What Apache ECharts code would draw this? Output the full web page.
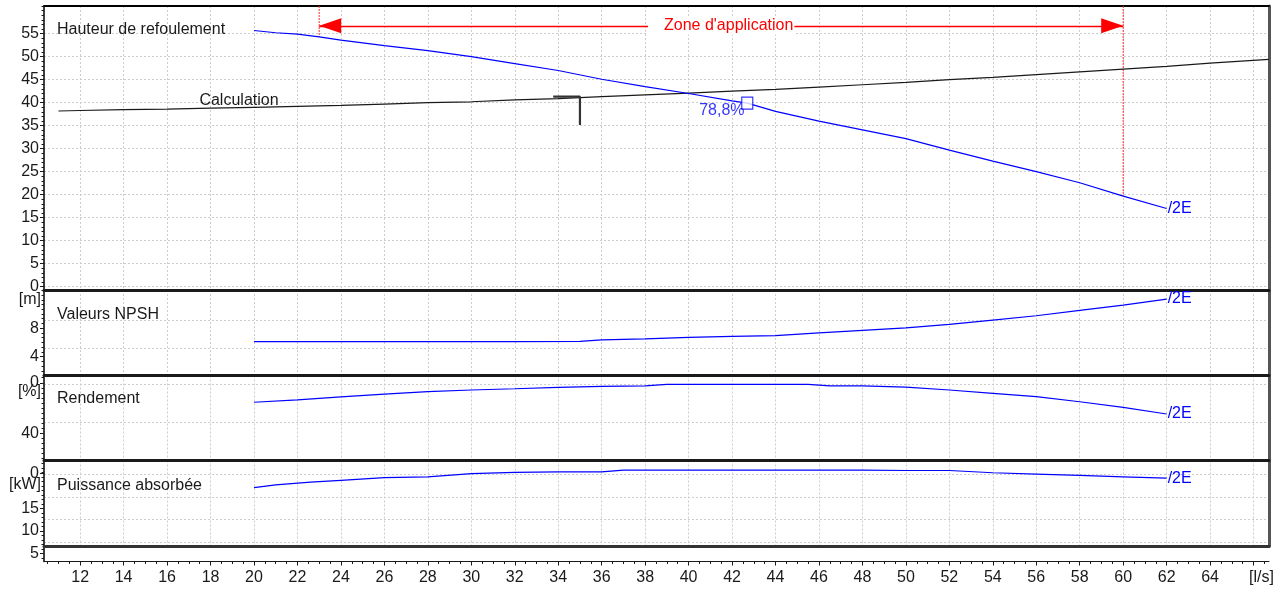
<!DOCTYPE html>
<html>
<head>
<meta charset="utf-8">
<script src="https://cdn.jsdelivr.net/npm/echarts@6/dist/echarts.min.js"></script>
<style>
  html, body { margin: 0; padding: 0; background: #fff; }
  #chart { width: 1288px; height: 590px; }
</style>
</head>
<body>
<div id="chart"></div>
<script>
// ---------- data ----------
// flow rate axis [l/s]
const flowLabels = [12, 14, 16, 18, 20, 22, 24, 26, 28, 30, 32, 34, 36, 38, 40, 42, 44, 46, 48, 50, 52, 54, 56, 58, 60, 62, 64];

// pump head curve /2E [m]
const headFlow   = [20, 21, 22, 23, 24, 26, 28, 30, 32, 34, 36, 38, 40, 42, 42.7, 44, 46, 48, 50, 52, 54, 56, 58, 60, 62];
const headValues = [55.7, 55.2, 54.9, 54.3, 53.6, 52.4, 51.3, 50.0, 48.5, 47.0, 45.1, 43.5, 42.0, 40.4, 39.9, 38.1, 36.0, 34.1, 32.2, 29.7, 27.3, 25.0, 22.6, 19.7, 17.0];

// system curve "Calculation" [m]
const systemFlow = [11, 12, 14, 16, 18, 20, 22, 24, 26, 28, 30, 32, 34, 36, 38, 40, 42, 44, 46, 48, 50, 52, 54, 56, 58, 60, 62, 64, 66.7];
const systemHead = [38.2, 38.3, 38.5, 38.6, 38.8, 39.0, 39.2, 39.4, 39.7, 40.0, 40.2, 40.6, 40.9, 41.3, 41.7, 42.1, 42.5, 42.9, 43.4, 43.9, 44.4, 45.0, 45.5, 46.1, 46.7, 47.3, 47.9, 48.6, 49.4];
const systemLabelFlow = 20;

// operating point flag on the system curve
const dutyFlagFlow = [33.77, 35, 35];
const dutyFlagHead = [41.3, 41.3, 35.15];

// best efficiency point
const bepFlow = 42.7;
const bepHead = 39.9;
const bepEfficiency = 78.8;

// application range
const zoneStart = 23;
const zoneEnd = 60;
const zoneArrowHead = 56.7;

// NPSH [m]
const npshFlow   = [20, 24, 28, 32, 35, 36, 38, 40, 42, 44, 46, 48, 50, 52, 54, 56, 58, 60, 62];
const npshValues = [6.1, 6.1, 6.1, 6.1, 6.15, 6.35, 6.5, 6.7, 6.85, 6.95, 7.35, 7.7, 8.05, 8.55, 9.15, 9.75, 10.5, 11.25, 12.1];

// efficiency [%]
const effFlow   = [20, 22, 24, 26, 28, 30, 32, 34, 36, 38, 39, 42, 45.5, 46.5, 48, 50, 52, 54, 56, 58, 60, 62];
const effValues = [64.6, 66.5, 68.8, 71.0, 73.0, 74.3, 75.3, 76.4, 77.2, 77.5, 78.8, 78.8, 78.8, 77.6, 77.5, 76.6, 74.3, 71.7, 69.0, 65.0, 60.6, 55.3];

// absorbed power [kW]
const powerFlow   = [20, 21, 22.6, 24, 26, 28, 30, 32, 34, 36, 37, 40, 44, 48, 50, 52, 54, 56, 58, 60, 62];
const powerValues = [19.6, 20.2, 20.8, 21.2, 21.8, 22.0, 22.7, 23.0, 23.1, 23.1, 23.5, 23.5, 23.5, 23.5, 23.4, 23.4, 22.9, 22.6, 22.3, 22.0, 21.7];

// vertical axis labels per panel
const headTicks = [0, 5, 10, 15, 20, 25, 30, 35, 40, 45, 50, 55];
const npshTicks = [4, 8];
const npshGrid  = [5.17, 9.06];
const effTicks    = [40, 80];
const effTickText = ['40', '0'];      // the 80 label only shows its last digit next to the unit
const effGrid     = [48.8, 79.05];
const powerTicks    = [10, 15, 22.8];
const powerTickText = ['10', '15', '0'];
const powerGrid     = [7.5, 12.5, 17.5, 22.5];
const stripTicks    = [5];

// ---------- layout / style ----------
const FONT = "'Liberation Sans', Arial, Helvetica, sans-serif";
const BLUE = '#0000ff';
const RED = '#ff0000';
const INK = '#1a1a1a';
const GRID_LINE = { show: true, lineStyle: { color: '#cdcdcd', width: 1, type: [2, 2] } };
const X_MIN = 10.336, X_MAX = 66.71;

const range = (a, b, s) => { const r = []; for (let v = a; v <= b + 1e-9; v += s) r.push(+v.toFixed(4)); return r; };
const zip = (xs, ys) => xs.map((x, i) => [x, ys[i]]);
const at = (xs, ys, x) => ys[xs.indexOf(x)];

const panels = [
  { top: 6,     height: 284,  min: -0.717, max: 61.02, labels: headTicks,  text: null,          grid: headTicks,  minor: range(0, 61, 1),        topLine: ['#000', 1.8], right: true },
  { top: 290,   height: 85.5, min: 1.338,  max: 13.38, labels: npshTicks,  text: null,          grid: npshGrid,   minor: range(2, 13.34, 2 / 3), topLine: [INK, 3],      right: true },
  { top: 375.5, height: 85,   min: 18.48,  max: 85.78, labels: effTicks,   text: effTickText,   grid: effGrid,    minor: range(20, 84, 4),       topLine: [INK, 3],      right: true },
  { top: 460.5, height: 85.5, min: 6.62,   max: 25.62, labels: powerTicks, text: powerTickText, grid: powerGrid,  minor: range(7, 25, 1),        topLine: [INK, 3],      right: true },
  { top: 546,   height: 15.5, min: 3.18,   max: 6.62,  labels: stripTicks, text: null,          grid: [],         minor: [4, 5, 6],              topLine: ['#333', 3],   right: false }
];

const grids = [], xAxes = [], yAxes = [];
const labAxisIndex = [];

panels.forEach((p, g) => {
  grids.push({ left: 44, right: 19, top: p.top, height: p.height, containLabel: false, outerBoundsMode: 'none' });

  // top edge of each panel (frame / separator) + vertical grid lines
  xAxes.push({
    type: 'value', gridIndex: g, position: 'top', min: X_MIN, max: X_MAX,
    axisLine: { show: true, onZero: false, lineStyle: { color: p.topLine[0], width: p.topLine[1] } },
    axisTick: { show: false, customValues: g < 4 ? range(12, 66, 2) : [] },
    axisLabel: { show: false },
    splitLine: g < 4 ? GRID_LINE : { show: false }
  });

  const fmt = (v) => {
    const i = p.labels.findIndex(t => Math.abs(t - v) < 1e-6);
    return p.text && i >= 0 ? p.text[i] : String(v);
  };

  labAxisIndex[g] = yAxes.length;
  // labelled scale
  yAxes.push({
    type: 'value', gridIndex: g, position: 'left', min: p.min, max: p.max,
    axisLine: { show: false, onZero: false },
    axisTick: { show: true, customValues: p.labels, length: 4, lineStyle: { color: INK, width: 1 } },
    axisLabel: { customValues: p.labels, formatter: fmt, margin: 5, color: INK, fontSize: 16, fontFamily: FONT },
    splitLine: { show: false }
  });
  // axis line + horizontal grid lines
  yAxes.push({
    type: 'value', gridIndex: g, position: 'left', min: p.min, max: p.max,
    axisLine: { show: true, onZero: false, lineStyle: { color: '#000', width: 1.5 } },
    axisTick: { show: false, customValues: p.grid },
    axisLabel: { show: false },
    splitLine: GRID_LINE
  });
  // minor ticks
  yAxes.push({
    type: 'value', gridIndex: g, position: 'left', min: p.min, max: p.max,
    axisLine: { show: false, onZero: false },
    axisTick: { show: true, customValues: p.minor, length: 2.5, lineStyle: { color: INK, width: 1 } },
    axisLabel: { show: false },
    splitLine: { show: false }
  });
  if (p.right) {
    yAxes.push({
      type: 'value', gridIndex: g, position: 'right', min: 0, max: 1,
      axisLine: { show: true, onZero: false, lineStyle: { color: '#555', width: 3 } },
      axisTick: { show: false }, axisLabel: { show: false }, splitLine: { show: false }
    });
  }
});

// bottom flow axis: labelled major ticks and half-unit minor ticks
xAxes.push({
  type: 'value', gridIndex: 4, position: 'bottom', min: X_MIN, max: X_MAX,
  axisLine: { show: true, onZero: false, lineStyle: { color: INK, width: 1 } },
  axisTick: { show: true, customValues: range(12, 66, 2), length: 4, lineStyle: { color: INK } },
  axisLabel: { customValues: flowLabels, margin: 8, color: INK, fontSize: 16, fontFamily: FONT },
  splitLine: { show: false }
});
xAxes.push({
  type: 'value', gridIndex: 4, position: 'bottom', min: X_MIN, max: X_MAX,
  axisLine: { show: false, onZero: false },
  axisTick: { show: true, customValues: range(10.5, 66.5, 0.5), length: 2.5, lineStyle: { color: INK } },
  axisLabel: { show: false },
  splitLine: { show: false }
});

const endLabel = { show: true, formatter: '/2E', color: BLUE, fontSize: 16, fontFamily: FONT, distance: 1 };
const curve = (color, w) => ({ color, width: w });

// dotted boundary of the application range, from the top edge down to the head curve
const zoneBoundary = (q) => ({
  name: 'Zone', type: 'line', xAxisIndex: 0, yAxisIndex: labAxisIndex[0], silent: true,
  data: [[q, panels[0].max], [q, at(headFlow, headValues, q)]],
  showSymbol: false, symbol: 'none',
  lineStyle: { color: '#ff3030', width: 1, type: [2, 1] }, itemStyle: { color: '#ff3030' }, z: 2
});

const series = [
  zoneBoundary(zoneStart),
  zoneBoundary(zoneEnd),
  {
    name: 'Hauteur', type: 'line', xAxisIndex: 0, yAxisIndex: labAxisIndex[0],
    data: zip(headFlow, headValues), showSymbol: false, symbol: 'none',
    lineStyle: curve(BLUE, 1.2), itemStyle: { color: BLUE }, endLabel, z: 4,
    markLine: {
      silent: true, animation: false,
      lineStyle: { color: RED, width: 1.3, type: 'solid' },
      itemStyle: { color: RED },
      data: [
        [
          {
            coord: [zoneStart, zoneArrowHead], symbol: 'triangle', symbolSize: [15, 22], symbolOffset: [0, 11],
            label: {
              show: true, position: 'middle', distance: 0, verticalAlign: 'middle',
              formatter: "Zone d'application", color: RED, fontSize: 16, fontFamily: FONT,
              backgroundColor: '#fff', padding: [1, 1, 1, 16]
            }
          },
          { coord: [zoneEnd, zoneArrowHead], symbol: 'triangle', symbolSize: [15, 22], symbolOffset: [0, 11] }
        ]
      ]
    }
  },
  {
    name: 'Calculation', type: 'line', xAxisIndex: 0, yAxisIndex: labAxisIndex[0],
    data: zip(systemFlow, systemHead), showSymbol: false, symbol: 'none',
    lineStyle: curve(INK, 1.2), itemStyle: { color: INK }, z: 3,
    markPoint: {
      silent: true, animation: false,
      data: [{
        coord: [systemLabelFlow, at(systemFlow, systemHead, systemLabelFlow)], symbol: 'circle', symbolSize: 0,
        label: { show: true, position: 'top', distance: 0, offset: [-15, 1], formatter: 'Calculation', color: INK, fontSize: 16, fontFamily: FONT }
      }]
    }
  },
  {
    name: 'Point', type: 'line', xAxisIndex: 0, yAxisIndex: labAxisIndex[0],
    data: zip(dutyFlagFlow, dutyFlagHead), showSymbol: false, symbol: 'none',
    lineStyle: curve('#333', 2.2), itemStyle: { color: '#333' }, z: 3
  },
  {
    name: 'BEP', type: 'scatter', xAxisIndex: 0, yAxisIndex: labAxisIndex[0],
    data: [[bepFlow, bepHead]], symbol: 'rect', symbolSize: [11, 12],
    itemStyle: { color: '#fff', borderColor: BLUE, borderWidth: 1.2 },
    label: {
      show: true, position: [-42, 6], align: 'left', verticalAlign: 'top',
      formatter: String(bepEfficiency).replace('.', ',') + '%', color: BLUE, fontSize: 16, fontFamily: FONT
    },
    z: 6
  },
  {
    name: 'NPSH', type: 'line', xAxisIndex: 1, yAxisIndex: labAxisIndex[1],
    data: zip(npshFlow, npshValues), showSymbol: false, symbol: 'none',
    lineStyle: curve(BLUE, 1.2), itemStyle: { color: BLUE }, endLabel
  },
  {
    name: 'Rendement', type: 'line', xAxisIndex: 2, yAxisIndex: labAxisIndex[2],
    data: zip(effFlow, effValues), showSymbol: false, symbol: 'none',
    lineStyle: curve(BLUE, 1.2), itemStyle: { color: BLUE }, endLabel
  },
  {
    name: 'Puissance', type: 'line', xAxisIndex: 3, yAxisIndex: labAxisIndex[3],
    data: zip(powerFlow, powerValues), showSymbol: false, symbol: 'none',
    lineStyle: curve(BLUE, 1.2), itemStyle: { color: BLUE }, endLabel
  }
];

const text = (t, x, y, align) => ({
  type: 'text', x, y, silent: true, z: 10,
  style: { text: t, fill: INK, font: '16px ' + FONT, align: align || 'left', verticalAlign: 'middle' }
});

const chart = echarts.init(document.getElementById('chart'), null, { renderer: 'canvas' });
chart.setOption({
  animation: false,
  backgroundColor: '#fff',
  grid: grids,
  xAxis: xAxes,
  yAxis: yAxes,
  series,
  graphic: [
    text('Hauteur de refoulement', 57, 30),
    text('Valeurs NPSH', 57, 315),
    text('Rendement', 57, 399),
    text('Puissance absorbée', 57, 486),
    text('[m]', 41, 300, 'right'),
    text('[%]', 41, 392, 'right'),
    text('[kW]', 41, 484.5, 'right'),
    text('[l/s]', 1249, 578)
  ]
});
</script>
</body>
</html>
